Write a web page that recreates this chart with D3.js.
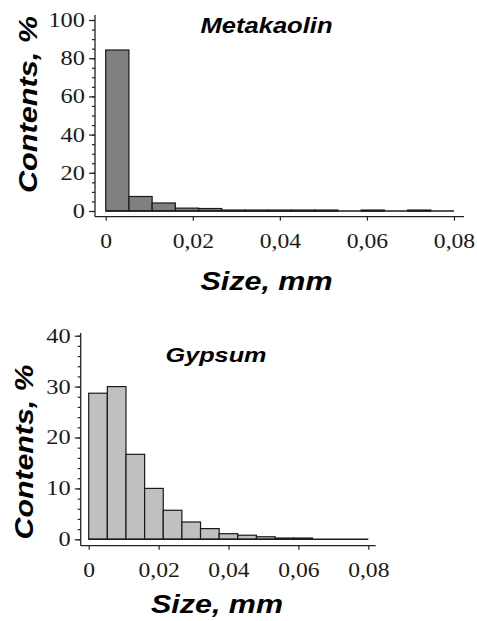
<!DOCTYPE html>
<html>
<head>
<meta charset="utf-8">
<script src="https://cdn.jsdelivr.net/npm/d3@7"></script>
<style>
  body { margin: 0; background: #fff; }
  .tick text { font-family: "Liberation Serif", "Times New Roman", serif; font-size: 20px; fill: #1a1a1a; }
  .label { font-family: "Liberation Sans", Arial, sans-serif; font-weight: bold; font-style: italic; fill: #000; }
</style>
</head>
<body>
<svg id="chart" width="477" height="621"></svg>
<script>
// size bins: 15 classes of equal width from 0 to 0.08 mm
var bin_count = 15;
var size_max = 0.08;
var x_ticks = [0, 0.02, 0.04, 0.06, 0.08];

// contents, % per size class
var metakaolin_values = [84.3, 7.6, 4.2, 1.5, 1.3, 0.5, 0.5, 0.5, 0.5, 0.5, 0, 0.5, 0, 0.5, 0];
var gypsum_values = [28.7, 30.0, 16.7, 10.0, 5.7, 3.4, 2.1, 1.1, 0.8, 0.5, 0.25, 0.25, 0, 0, 0];

var metakaolin_y_ticks = [0, 20, 40, 60, 80, 100];
var gypsum_y_ticks = [0, 10, 20, 30, 40];

var svg = d3.select("#chart");

function fmtSize(d) {
    return d === 0 ? "0" : d3.format(".2f")(d).replace(".", ",");
}

// stretch the serif tick labels a little, like the scanned figure
function widenLabels(sel, k) {
    sel.selectAll(".tick text").each(function() {
        var len = this.getComputedTextLength();
        d3.select(this).attr("textLength", len * k).attr("lengthAdjust", "spacingAndGlyphs");
    });
}

function drawHistogram(opt) {
    var g = svg.append("g");

    var xScale = d3.scaleLinear().domain([0, size_max]).range(opt.xRange);
    var yScale = d3.scaleLinear().domain([0, opt.yMax]).range(opt.yRange);
    var binWidth = size_max / bin_count;

    // bars
    g.append("g")
        .selectAll("rect")
        .data(opt.values.filter(function(d) { return d > 0; }).length ? opt.values : [])
        .enter().append("rect")
            .attr("x", function(d, i) { return xScale(i * binWidth); })
            .attr("y", function(d) { return yScale(d); })
            .attr("width", function(d, i) { return xScale((i + 1) * binWidth) - xScale(i * binWidth); })
            .attr("height", function(d) { return yScale(0) - yScale(d); })
            .attr("fill", opt.fill)
            .attr("stroke", "#1a1a1a")
            .attr("stroke-width", 1.2);

    // baseline under the bins (empty bins show as a line)
    g.append("line")
        .attr("x1", xScale(0)).attr("x2", xScale(size_max))
        .attr("y1", yScale(0)).attr("y2", yScale(0))
        .attr("stroke", "#1a1a1a").attr("stroke-width", 1.4);

    // minor y ticks
    var yMinor = g.append("g")
        .attr("transform", "translate(" + opt.axisX + ",0)")
        .call(d3.axisLeft(yScale).tickValues(d3.range(0, opt.yMax + 0.001, opt.yMinorStep)).tickSize(3).tickFormat(""));
    yMinor.select(".domain").remove();

    // major y ticks
    var yAxis = g.append("g")
        .attr("transform", "translate(" + opt.axisX + ",0)")
        .call(d3.axisLeft(yScale).tickValues(opt.yTicks).tickSize(6).tickPadding(4).tickFormat(d3.format("d")));
    yAxis.select(".domain").remove();
    widenLabels(yAxis, 1.22);

    // x ticks
    var xAxis = g.append("g")
        .attr("transform", "translate(0," + opt.axisY + ")")
        .call(d3.axisBottom(xScale).tickValues(x_ticks).tickSize(4).tickPadding(13).tickFormat(fmtSize));
    xAxis.select(".domain").remove();
    widenLabels(xAxis, 1.18);

    g.selectAll(".tick line").attr("stroke", "#222").attr("stroke-width", 1.2);

    // axis lines (offset from the data area)
    g.append("line")
        .attr("x1", opt.axisX).attr("x2", opt.axisX)
        .attr("y1", opt.axisTop).attr("y2", opt.axisY)
        .attr("stroke", "#222").attr("stroke-width", 1.3);
    g.append("line")
        .attr("x1", opt.axisX).attr("x2", opt.axisRight)
        .attr("y1", opt.axisY).attr("y2", opt.axisY)
        .attr("stroke", "#222").attr("stroke-width", 1.3);

    // titles
    g.append("text")
        .attr("class", "label")
        .attr("x", opt.title[1]).attr("y", opt.title[2])
        .attr("text-anchor", "middle")
        .attr("font-size", opt.title[4])
        .attr("textLength", opt.title[3]).attr("lengthAdjust", "spacingAndGlyphs")
        .text(opt.title[0]);

    g.append("text")
        .attr("class", "label")
        .attr("x", opt.xLabel[0]).attr("y", opt.xLabel[1])
        .attr("text-anchor", "middle")
        .attr("font-size", 25)
        .attr("textLength", 132).attr("lengthAdjust", "spacingAndGlyphs")
        .text("Size, mm");

    g.append("text")
        .attr("class", "label")
        .attr("transform", "translate(" + opt.yLabel[0] + "," + opt.yLabel[1] + ") rotate(-90)")
        .attr("text-anchor", "middle")
        .attr("font-size", 26)
        .attr("textLength", opt.yLabel[2]).attr("lengthAdjust", "spacingAndGlyphs")
        .text("Contents, %");
}

drawHistogram({
    values: metakaolin_values,
    fill: "#808080",
    yMax: 100,
    yTicks: metakaolin_y_ticks,
    yMinorStep: 5,
    xRange: [105.7, 454],
    yRange: [211, 20],
    axisX: 95,
    axisY: 216.7,
    axisTop: 15,
    axisRight: 464,
    title: ["Metakaolin", 266.5, 33, 132, 22],
    xLabel: [266.5, 290],
    yLabel: [37, 104.5, 177]
});

drawHistogram({
    values: gypsum_values,
    fill: "#c0c0c0",
    yMax: 40,
    yTicks: gypsum_y_ticks,
    yMinorStep: 2,
    xRange: [88.7, 368.3],
    yRange: [539.3, 335.7],
    axisX: 80.7,
    axisY: 545.7,
    axisTop: 333,
    axisRight: 375.7,
    title: ["Gypsum", 216, 361.5, 101, 21],
    xLabel: [217, 613],
    yLabel: [32.5, 452, 175]
});
</script>
</body>
</html>
